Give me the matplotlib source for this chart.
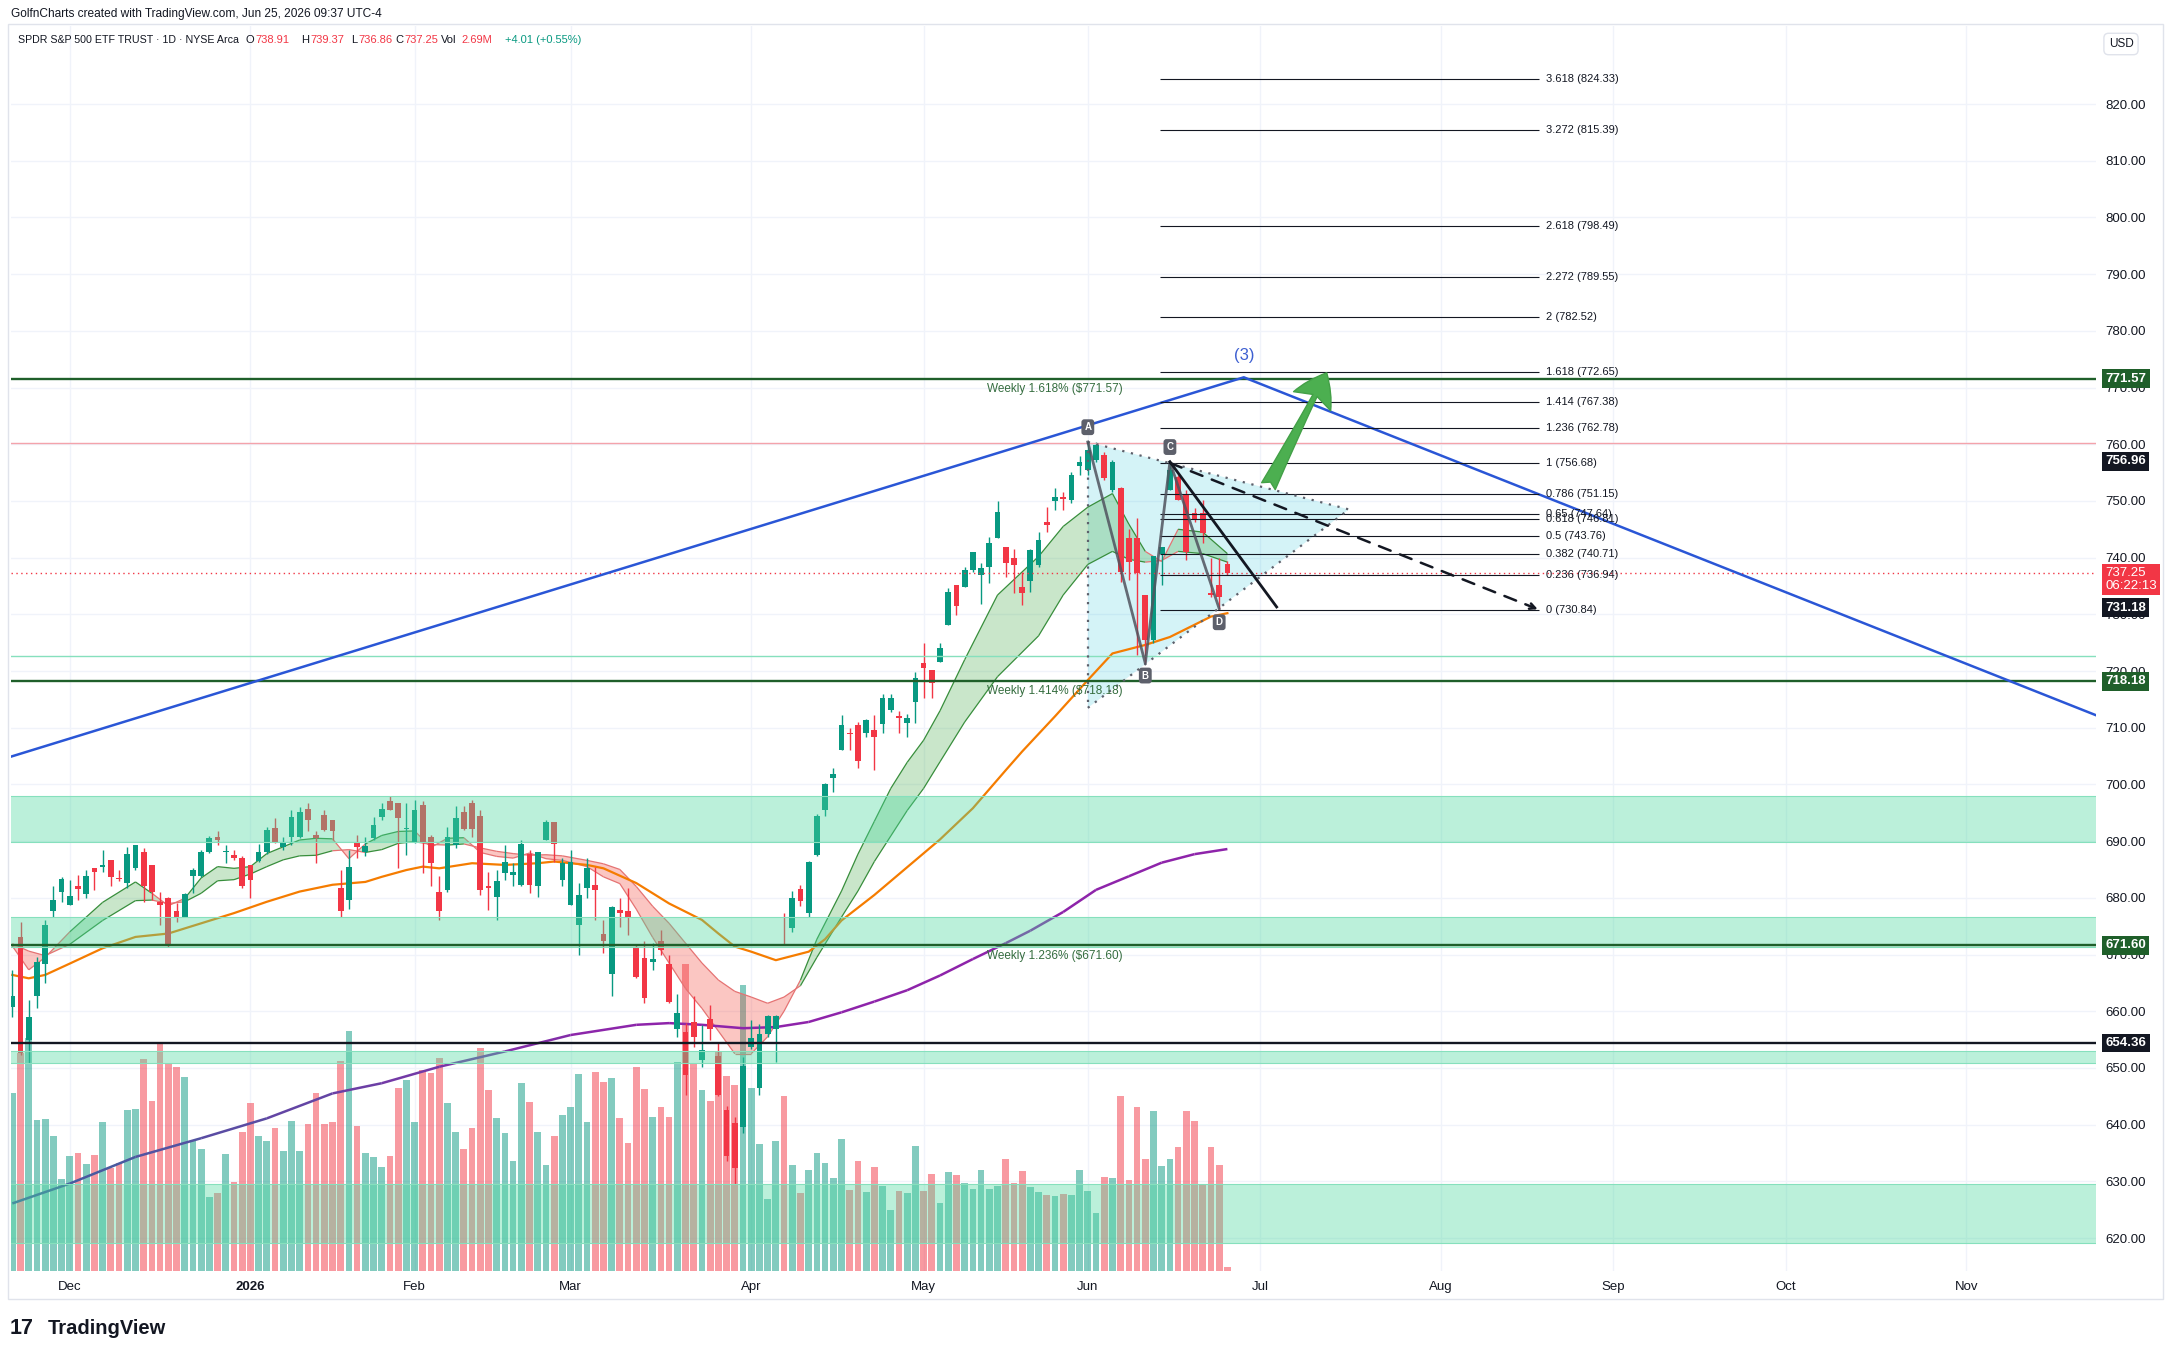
import numpy as np
import pandas as pd
import matplotlib
matplotlib.use("Agg")
import matplotlib.pyplot as plt
import matplotlib.transforms as mtransforms
from matplotlib.collections import LineCollection
from matplotlib.patches import Polygon, Rectangle
from matplotlib.colors import to_rgb

plt.rcParams['font.family'] = ['Liberation Sans', 'DejaVu Sans']

W, H = 2174, 1360

# ---------------- data ----------------
first_session = "2025-11-19"
last_session = "2026-12-31"
market_holidays = ["2025-11-27", "2025-12-25", "2026-01-01", "2026-01-19",
                   "2026-02-16", "2026-04-03", "2026-05-25", "2026-06-19",
                   "2026-07-03", "2026-09-07", "2026-11-26", "2026-12-25"]

opens = [660.8, 673.1, 654.9, 662.6, 668.4, 677.6, 681.1, 678.7, 682.1, 680.7,
         685.3, 685.5, 686.7, 683.4, 682.6, 685.2, 688.1, 685.8, 679.3, 679.9,
         677.6, 676.7, 683.8, 683.8, 688.0, 690.7, 688.0, 687.6, 687.1, 685.8,
         686.5, 688.0, 692.3, 688.9, 690.8, 690.8, 695.6, 691.1, 694.6, 693.7,
         681.7, 679.6, 689.9, 688.1, 690.5, 694.2, 697.1, 696.7, 692.1, 689.6,
         696.4, 690.8, 681.1, 681.4, 689.3, 695.2, 696.7, 694.4, 682.0, 680.2,
         684.3, 684.0, 682.3, 687.8, 682.0, 690.2, 693.4, 683.1, 678.7, 675.2,
         681.7, 682.3, 673.6, 666.6, 677.9, 677.7, 671.3, 669.3, 668.6, 672.4,
         668.4, 656.9, 656.4, 658.1, 651.4, 658.7, 652.1, 642.6, 640.2, 639.5,
         653.6, 646.5, 655.9, 656.9, 676.3, 674.7, 681.5, 677.3, 687.6, 695.4,
         701.1, 706.1, 709.1, 710.4, 709.1, 709.6, 710.7, 713.1, 712.0, 710.9,
         714.6, 721.4, 720.2, 721.6, 728.1, 735.2, 734.9, 737.8, 736.9, 738.4,
         743.4, 741.9, 739.9, 734.9, 735.8, 738.7, 746.3, 749.9, 750.7, 750.1,
         756.1, 755.4, 757.2, 758.1, 751.9, 752.2, 743.4, 743.4, 733.4, 725.5,
         740.7, 751.9, 754.3, 751.3, 747.8, 747.8, 733.7, 735.2, 738.91]
highs = [667.3, 675.8, 662.0, 669.6, 676.1, 682.0, 683.7, 683.1, 684.0, 684.9,
         685.3, 688.4, 686.7, 684.9, 689.0, 689.3, 688.7, 685.8, 681.1, 680.2,
         679.0, 680.9, 685.2, 688.4, 690.9, 691.7, 689.3, 688.4, 687.3, 685.8,
         689.5, 692.5, 694.0, 690.8, 695.5, 696.1, 696.7, 691.7, 695.5, 693.7,
         684.9, 688.4, 691.1, 690.8, 694.3, 696.7, 697.9, 696.7, 696.7, 697.2,
         697.0, 691.1, 683.8, 692.5, 696.2, 696.2, 697.3, 695.5, 684.6, 684.9,
         689.3, 686.1, 690.2, 688.4, 688.1, 693.7, 693.4, 687.0, 688.5, 682.6,
         687.0, 685.5, 676.1, 678.5, 679.9, 681.7, 671.7, 672.3, 672.1, 674.3,
         669.9, 663.1, 657.9, 662.6, 657.6, 661.1, 654.6, 643.2, 641.4, 652.0,
         658.5, 657.8, 659.4, 659.4, 677.3, 681.2, 682.2, 686.5, 694.8, 700.3,
         702.9, 712.3, 710.0, 711.0, 711.6, 712.3, 716.0, 716.0, 712.9, 712.4,
         719.9, 724.9, 720.2, 725.0, 734.6, 735.2, 738.4, 741.0, 739.0, 743.7,
         749.9, 741.9, 741.6, 737.5, 741.6, 744.6, 749.0, 752.2, 751.6, 755.1,
         757.9, 760.4, 760.4, 758.7, 757.2, 752.5, 745.1, 746.9, 733.4, 740.2,
         741.9, 756.9, 754.6, 751.9, 748.7, 750.1, 739.9, 739.9, 739.37]
lows = [659.0, 652.3, 650.8, 660.5, 664.9, 676.7, 679.3, 678.7, 679.6, 679.9,
        681.4, 684.6, 682.0, 682.9, 681.7, 684.9, 679.3, 679.6, 675.2, 671.4,
        675.8, 676.7, 680.8, 683.7, 687.9, 689.3, 686.1, 686.7, 681.8, 680.0,
        686.4, 687.8, 689.6, 688.4, 689.3, 690.5, 691.7, 686.1, 691.7, 690.2,
        676.7, 678.1, 687.0, 687.3, 690.2, 693.7, 695.5, 685.2, 687.5, 689.6,
        684.3, 682.0, 676.1, 681.1, 688.7, 692.0, 690.8, 680.5, 677.9, 676.1,
        683.1, 682.0, 682.0, 680.8, 680.2, 690.2, 686.4, 682.0, 678.7, 669.9,
        679.9, 676.1, 670.2, 662.6, 674.9, 673.4, 665.9, 661.4, 667.3, 669.9,
        661.4, 655.5, 645.2, 653.7, 650.2, 654.9, 645.0, 633.5, 629.6, 638.5,
        653.3, 645.2, 655.5, 651.0, 671.8, 674.0, 678.6, 676.6, 687.3, 694.5,
        698.7, 706.1, 706.1, 702.9, 708.4, 702.6, 709.1, 712.8, 709.1, 708.4,
        710.8, 715.2, 715.2, 721.6, 728.1, 729.9, 734.9, 737.5, 731.9, 735.5,
        743.4, 736.6, 733.7, 731.6, 734.0, 738.4, 744.6, 748.4, 748.4, 749.6,
        754.6, 754.6, 756.9, 753.7, 751.6, 735.7, 736.0, 722.8, 721.4, 724.9,
        735.2, 751.9, 750.1, 739.6, 746.3, 742.5, 733.1, 731.0, 736.86]
closes = [662.6, 652.6, 659.0, 668.7, 675.2, 679.7, 683.4, 680.3, 681.6, 683.8,
          684.5, 685.7, 683.6, 683.3, 687.7, 689.3, 682.0, 681.1, 678.7, 671.7,
          676.7, 680.7, 684.9, 688.1, 690.5, 690.2, 688.2, 687.0, 682.0, 683.1,
          688.0, 692.0, 689.6, 689.6, 694.3, 695.2, 693.8, 690.5, 692.0, 691.7,
          677.6, 685.5, 689.0, 689.1, 692.8, 695.6, 695.5, 694.0, 692.3, 695.5,
          689.6, 686.2, 677.6, 690.8, 694.0, 692.1, 692.1, 681.4, 681.8, 682.9,
          686.4, 684.6, 689.5, 682.3, 688.1, 693.3, 689.5, 686.1, 686.4, 680.5,
          685.2, 681.4, 672.4, 678.4, 677.4, 676.5, 666.1, 662.3, 669.2, 670.8,
          661.7, 659.6, 648.7, 655.5, 653.2, 656.9, 645.2, 634.4, 632.3, 650.4,
          655.2, 655.9, 659.1, 659.2, 676.2, 679.9, 679.4, 686.4, 694.5, 700.0,
          701.9, 710.4, 708.9, 704.2, 711.3, 708.4, 715.2, 715.2, 711.8, 711.8,
          718.7, 720.5, 717.8, 724.0, 734.0, 731.4, 737.8, 741.0, 738.1, 742.5,
          748.1, 739.0, 738.7, 733.7, 741.3, 743.1, 745.7, 750.7, 750.4, 754.6,
          756.9, 759.0, 759.9, 754.0, 756.9, 737.5, 739.3, 737.2, 725.5, 740.2,
          741.9, 755.4, 750.1, 741.0, 746.6, 744.3, 733.4, 733.1, 737.25]
volumes_m = [53.3, 65.4, 69.9, 45.3, 45.5, 40.5, 27.5, 34.5, 35.5, 32.0,
             34.8, 44.8, 30.8, 32.5, 48.3, 48.5, 63.5, 51.0, 68.8, 62.3,
             61.3, 58.3, 39.3, 36.6, 22.3, 23.5, 35.0, 26.6, 41.8, 50.5,
             40.5, 39.1, 42.8, 36.0, 45.0, 36.0, 44.1, 53.5, 44.0, 44.8,
             63.0, 72.0, 43.5, 35.5, 34.1, 31.3, 34.5, 55.0, 57.3, 44.8,
             60.3, 59.3, 63.8, 50.3, 41.8, 36.6, 42.8, 67.0, 54.3, 45.8,
             41.5, 33.0, 56.3, 50.8, 41.8, 31.8, 40.5, 46.8, 49.1, 59.1,
             44.8, 59.8, 56.6, 57.8, 45.8, 38.5, 61.1, 54.6, 46.3, 49.3,
             46.3, 62.6, 92.0, 62.3, 54.3, 51.0, 65.8, 58.5, 55.8, 85.8,
             54.9, 38.1, 21.5, 38.9, 52.4, 31.8, 23.3, 30.3, 35.3, 32.3,
             27.9, 39.7, 24.4, 33.1, 23.7, 31.1, 25.4, 18.2, 24.1, 23.5,
             37.5, 24.1, 29.0, 20.4, 29.8, 28.7, 26.5, 24.6, 30.3, 24.6,
             25.4, 33.6, 26.3, 29.9, 25.3, 23.8, 22.8, 22.5, 23.0, 22.8,
             30.2, 24.0, 17.3, 28.3, 27.8, 52.4, 27.4, 49.1, 33.5, 47.9,
             31.5, 33.5, 37.3, 47.9, 45.1, 25.8, 37.3, 31.9, 1.3]

# EMA ribbon (fast / slow) sampled at bar positions
ribbon_idx = [0, 2, 4, 7, 11, 15, 17, 19, 21, 23, 25, 27, 29, 31, 33, 35, 37, 39, 41, 43,
              45, 47, 49, 51, 53, 55, 57, 59, 61, 63, 65, 67, 70, 72, 74, 76, 78, 80, 82, 84,
              86, 88, 90, 92, 94, 96, 98, 101, 103, 105, 107, 109, 111, 113, 116, 120, 125, 128,
              131, 134, 136, 138, 140, 142, 145, 148]
ribbon_fast = [671.5, 667.3, 669.5, 674.0, 679.2, 682.8, 680.8, 678.6, 679.9, 683.5,
               685.5, 685.2, 685.5, 687.8, 689.0, 690.2, 690.5, 690.4, 686.9, 689.5,
               691.0, 691.7, 691.8, 688.9, 690.5, 690.6, 688.0, 687.3, 687.0, 687.9,
               686.9, 686.6, 685.5, 683.7, 682.5, 678.0, 673.0, 668.5, 664.0, 660.5,
               656.5, 652.5, 652.5, 655.5, 660.0, 665.5, 672.7, 681.2, 687.7, 693.5,
               699.3, 703.9, 707.8, 713.0, 722.0, 733.4, 740.2, 745.5, 748.9, 751.3,
               745.9, 741.1, 739.3, 745.0, 744.5, 740.7]
ribbon_slow = [671.9, 670.6, 669.8, 671.8, 676.0, 679.5, 679.6, 679.0, 679.3, 680.8,
               683.0, 683.2, 684.2, 685.5, 686.7, 687.4, 687.5, 688.3, 688.5, 688.0,
               688.5, 689.6, 689.9, 689.4, 689.3, 689.5, 688.8, 688.2, 687.8, 687.5,
               687.6, 687.4, 686.6, 686.0, 685.0, 682.0, 678.5, 675.5, 672.0, 668.5,
               665.5, 663.5, 662.5, 661.4, 662.5, 664.5, 669.5, 676.6, 681.2, 686.4,
               690.9, 695.4, 699.3, 704.0, 711.0, 719.0, 726.2, 733.4, 738.8, 741.1,
               739.7, 739.2, 739.5, 741.1, 740.7, 739.2]

ma50_idx = [0, 2, 4, 7, 11, 15, 19, 23, 27, 31, 35, 39, 43, 45, 48, 50, 52, 56, 60, 64,
            66, 70, 72, 76, 80, 84, 86, 88, 90, 93, 97, 99, 101, 105, 109, 113, 117, 121, 123, 127,
            131, 134, 138, 141, 146, 148]
ma50 = [666.4, 665.8, 666.4, 668.4, 671.1, 673.1, 673.7, 675.5, 677.3, 679.3,
        681.1, 682.3, 682.8, 683.7, 684.9, 685.5, 685.2, 686.1, 685.8, 686.1,
        686.4, 685.8, 685.2, 682.6, 679.0, 676.1, 673.7, 671.4, 670.5, 669.0,
        670.5, 672.7, 676.0, 680.5, 685.4, 690.3, 695.8, 702.5, 705.8, 712.0,
        718.4, 723.1, 724.6, 726.0, 729.6, 730.2]

ma200_idx = [0, 7, 15, 23, 31, 39, 45, 52, 60, 68, 76, 80, 84, 89, 93, 97, 101, 105, 109, 113,
             117, 121, 124, 128, 132, 136, 140, 144, 148]
ma200 = [626.1, 629.6, 634.3, 637.6, 641.1, 645.5, 647.3, 650.2, 652.9, 655.8,
         657.6, 657.9, 657.6, 657.0, 657.2, 658.1, 659.8, 661.7, 663.7, 666.3,
         669.2, 672.0, 674.2, 677.5, 681.4, 683.8, 686.2, 687.7, 688.6]

# support / resistance zones (low, high)
zone_lo = [689.9, 671.3, 650.8, 619.2]
zone_hi = [697.95, 676.6, 653.0, 629.6]

key_levels = [771.57, 718.18, 671.60, 654.36]
key_colors = ['#1f5f2a', '#1f5f2a', '#1f5f2a', '#131722']
weekly_labels = ['Weekly 1.618% ($771.57)', 'Weekly 1.414% ($718.18)', 'Weekly 1.236% ($671.60)']
weekly_y = [769.8, 716.5, 669.8]

fib_ratios = ['3.618', '3.272', '2.618', '2.272', '2', '1.618', '1.414', '1.236',
              '1', '0.786', '0.65', '0.618', '0.5', '0.382', '0.236', '0']
fib_prices = [824.33, 815.39, 798.49, 789.55, 782.52, 772.65, 767.38, 762.78,
              756.68, 751.15, 747.64, 746.81, 743.76, 740.71, 736.94, 730.84]

# drawings (bar index, price)
wave_line = [(-0.16, 704.9), (150.0, 771.8), (253.8, 712.2)]
pattern_pts = [(131, 760.4), (138, 721.35), (141, 756.9), (147, 731.0)]
pattern_names = ['A', 'B', 'C', 'D']
pattern_label_pos = [(131, 763.0), (138, 719.2), (141, 759.5), (147, 728.6)]
wedge_top, wedge_bottom, wedge_apex = (131, 760.4), (131, 713.5), (162.8, 748.5)

last_price = 737.25
tag_prices = [771.57, 756.96, 731.18, 718.18, 671.60, 654.36]
tag_colors = ['#1f5f2a', '#131722', '#131722', '#1f5f2a', '#1f5f2a', '#131722']

UP, DOWN, TEXT = '#089981', '#f23645', '#131722'

# ---------------- figure ----------------
X_LIM = (-0.16, 253.8)
Y_LIM = (614.18, 833.76)
VOL_TOP = 373.5

fig = plt.figure(figsize=(W / 100, H / 100), dpi=100)
rect = [11 / W, 1 - 1271 / H, (2096 - 11) / W, (1271 - 26) / H]
axv = fig.add_axes(rect)
ax = fig.add_axes(rect, sharex=axv)
ax.patch.set_alpha(0)
axv.axis('off')

o, h, l, c = map(np.array, (opens, highs, lows, closes))
x = np.arange(len(o))
up = c >= o
col = np.where(up, UP, DOWN)

# grid (behind everything)
yticks = np.arange(620, 830, 10)
gtrans = mtransforms.blended_transform_factory(axv.transAxes, ax.transData)
for p in yticks:
    axv.plot([0, 1], [p, p], transform=gtrans, color='#f0f3fa', lw=1, zorder=0)

dates = pd.bdate_range(first_session, last_session, freq='C', holidays=market_holidays)
month_pos = [i for i in range(1, len(dates)) if dates[i].month != dates[i - 1].month and i < X_LIM[1]]
month_lab = [str(dates[i].year) if dates[i].month == 1 else dates[i].strftime('%b') for i in month_pos]
for m in month_pos:
    axv.axvline(m, color='#f0f3fa', lw=1, zorder=0)

# volume
axv.bar(x, volumes_m, width=0.82, color=col, alpha=0.5, linewidth=0, zorder=1)
axv.set_ylim(0, VOL_TOP)

# triangle pattern shading
ax.add_patch(Polygon([wedge_top, wedge_apex, wedge_bottom], closed=True,
                     fc='#00bcd4', alpha=0.17, ec='none', zorder=1))

# ribbon
rx, rf, rs = np.array(ribbon_idx), np.array(ribbon_fast), np.array(ribbon_slow)
ax.fill_between(rx, rf, rs, where=rf >= rs, interpolate=True, color='#4caf50', alpha=0.3, lw=0, zorder=2)
ax.fill_between(rx, rf, rs, where=rf < rs, interpolate=True, color='#f44336', alpha=0.3, lw=0, zorder=2)
red = rf < rs
for ys in (rf, rs):
    pts = np.column_stack([rx, ys])
    segs = np.stack([pts[:-1], pts[1:]], axis=1)
    scol = ['#e57373' if (red[i] or red[i + 1]) else '#388e3c' for i in range(len(segs))]
    ax.add_collection(LineCollection(segs, colors=scol, lw=0.9, zorder=3))

ax.plot(ma50_idx, ma50, color='#f57c00', lw=1.6, zorder=3)

pts = np.column_stack([ma200_idx, ma200])
segs = np.stack([pts[:-1], pts[1:]], axis=1)
c0, c1 = np.array(to_rgb('#41609f')), np.array(to_rgb('#8e24aa'))
t = np.clip(np.array(ma200_idx[:-1]) / 70.0, 0, 1)
ax.add_collection(LineCollection(segs, colors=c0 + (c1 - c0) * t[:, None], lw=1.8, zorder=3))

# candles
ax.vlines(x, l, h, colors=col, lw=1, zorder=4)
ax.bar(x, np.maximum(np.abs(c - o), 0.15), bottom=np.minimum(o, c), width=0.7,
       color=col, linewidth=0, zorder=4.1)

# zones (drawn over candles, semi transparent)
for lo, hi in zip(zone_lo, zone_hi):
    ax.axhspan(lo, hi, fc='#4cd9a0', alpha=0.38, ec='none', zorder=5)
    ax.axhline(lo, color='#86e0bd', lw=0.8, zorder=5)
    ax.axhline(hi, color='#86e0bd', lw=0.8, zorder=5)
ax.axhline(722.6, color='#86e0bd', lw=1, zorder=5)

# key horizontal levels
ax.axhline(760.3, color='#f4a3ab', lw=1, zorder=5)
ax.axhline(last_price, color=DOWN, lw=1, ls=(0, (1, 2.5)), zorder=5)
for lv, lc in zip(key_levels, key_colors):
    ax.axhline(lv, color=lc, lw=1.7, zorder=6)
for txt, yy in zip(weekly_labels, weekly_y):
    ax.text(118.7, yy, txt, color='#356d3f', fontsize=8.5, va='center', ha='left', zorder=7)

# wave trend line
wx, wy = zip(*wave_line)
ax.plot(wx, wy, color='#2a56d6', lw=1.8, zorder=6)
ax.text(wave_line[1][0], 775.6, '(3)', color='#3d5fd1', fontsize=12, ha='center', va='center', zorder=7)

# fib extension
for r, p in zip(fib_ratios, fib_prices):
    ax.hlines(p, 139.85, 185.95, color=TEXT, lw=0.8, zorder=6)
    ax.text(186.8, p, f'{r} ({p:.2f})', color=TEXT, fontsize=8, va='center', ha='left', zorder=7)

# triangle pattern outline
dot = dict(color='#5d606b', lw=1.6, ls=(0, (1, 3)), zorder=6)
ax.plot([wedge_top[0], wedge_apex[0]], [wedge_top[1], wedge_apex[1]], **dot)
ax.plot([wedge_bottom[0], wedge_apex[0]], [wedge_bottom[1], wedge_apex[1]], **dot)
ax.plot([wedge_top[0], wedge_bottom[0]], [wedge_top[1], wedge_bottom[1]], **dot)
px, py = zip(*pattern_pts)
ax.plot(px, py, color='#50535e', lw=2, alpha=0.85, zorder=6)
for name, (lx, ly) in zip(pattern_names, pattern_label_pos):
    ax.text(lx, ly, name, color='white', fontsize=7, fontweight='bold', ha='center', va='center',
            zorder=8, bbox=dict(boxstyle='round,pad=0.3', fc='#5d606b', ec='none'))

# breakout lines
ax.plot([141, 154.0], [756.9, 731.3], color=TEXT, lw=2, zorder=6)
ax.annotate('', xy=(185.8, 730.9), xytext=(141, 756.7), zorder=6,
            arrowprops=dict(arrowstyle='->', ls=(0, (5, 4)), lw=1.8, color=TEXT,
                            shrinkA=0, shrinkB=0))
ax.annotate('', xy=(160.1, 772.6), xytext=(153.0, 752.6), zorder=8,
            arrowprops=dict(arrowstyle='fancy,head_length=0.46,head_width=0.6,tail_width=0.22',
                            fc='#4caf50', ec='#43a047', mutation_scale=50, shrinkA=0, shrinkB=0))

# axes formatting
ax.set_xlim(*X_LIM)
ax.set_ylim(*Y_LIM)
for s in ax.spines.values():
    s.set_visible(False)
ax.yaxis.tick_right()
ax.set_yticks(yticks)
ax.set_yticklabels([f'{v:.2f}' for v in yticks])
ax.tick_params(axis='y', length=0, pad=7, labelsize=9.5, labelcolor=TEXT)
ax.set_xticks(month_pos)
ax.set_xticklabels(month_lab)
ax.tick_params(axis='x', length=0, pad=7, labelsize=9.5, labelcolor=TEXT)
for lab in ax.get_xticklabels():
    if lab.get_text().isdigit():
        lab.set_fontweight('bold')

# price tags on the scale
ttrans = mtransforms.blended_transform_factory(ax.transAxes, ax.transData)
for p, tc in zip(tag_prices, tag_colors):
    ax.text(1.0045, p, f'{p:.2f}', transform=ttrans, color='white', fontsize=9.5, fontweight='bold',
            va='center', ha='left', zorder=9, clip_on=False,
            bbox=dict(boxstyle='square,pad=0.25', fc=tc, ec='none'))
ax.text(1.0045, 736.1, f'{last_price:.2f}\n06:22:13', transform=ttrans, color='white', fontsize=9.5,
        va='center', ha='left', linespacing=1.05, zorder=9, clip_on=False,
        bbox=dict(boxstyle='square,pad=0.25', fc=DOWN, ec='none'))

# frame and header
fig.add_artist(Rectangle((8 / W, 1 - 1299 / H), (2163 - 8) / W, (1299 - 24) / H,
                         transform=fig.transFigure, fill=False, ec='#e0e3eb', lw=1))
fig.text(2121 / W, 1 - 44 / H, 'USD', fontsize=8.5, color=TEXT, ha='center', va='center',
         bbox=dict(boxstyle='round,pad=0.4', fc='white', ec='#e0e3eb'))


def ftext(px_, py_, s, **kw):
    fig.text(px_ / W, 1 - py_ / H, s, va='center', ha='left', **kw)


ftext(11, 14, 'GolfnCharts created with TradingView.com, Jun 25, 2026 09:37 UTC-4', fontsize=8.6, color=TEXT)
ftext(18, 40, 'SPDR S&P 500 ETF TRUST · 1D · NYSE Arca', fontsize=7.7, color=TEXT)
legend_parts = [(246, 'O', TEXT), (255.5, '738.91', DOWN), (301.5, 'H', TEXT), (310.5, '739.37', DOWN),
                (351, 'L', TEXT), (358.5, '736.86', DOWN), (395.5, 'C', TEXT), (404.5, '737.25', DOWN),
                (441, 'Vol', TEXT), (461.5, '2.69M', DOWN), (505.4, '+4.01 (+0.55%)', UP)]
for px_, s, cc in legend_parts:
    ftext(px_, 40, s, fontsize=8, color=cc)

ftext(10, 1328, '17', fontsize=15.5, fontweight='bold', color=TEXT)
ftext(48, 1328, 'TradingView', fontsize=14.5, fontweight='bold', color=TEXT)

fig.savefig('out.png', dpi=100)
